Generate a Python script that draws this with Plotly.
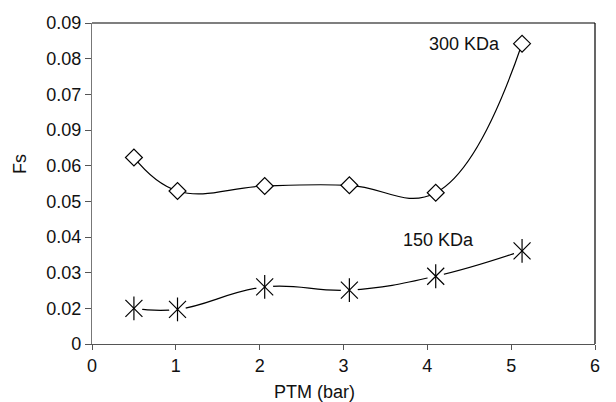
import plotly.graph_objects as go

# Data (axis units)
x_300 = [0.5, 1.02, 2.06, 3.07, 4.10, 5.13]
y_300 = [0.0523, 0.0429, 0.0443, 0.0445, 0.0424, 0.0842]
x_150 = [0.5, 1.02, 2.06, 3.07, 4.10, 5.13]
y_150 = [0.0100, 0.0097, 0.0160, 0.0151, 0.0190, 0.0261]

y_tickvals = [0, 0.01, 0.02, 0.03, 0.04, 0.05, 0.06, 0.07, 0.08, 0.09]
y_ticktext = ["0", "0.02", "0.03", "0.04", "0.05", "0.06", "0.09", "0.07", "0.08", "0.09"]
x_tickvals = [0, 1, 2, 3, 4, 5, 6]

FONT = "Liberation Sans, Arial, sans-serif"
TXT = "#111"

fig = go.Figure()
# lines
for xs, ys in [(x_300, y_300), (x_150, y_150)]:
    fig.add_trace(go.Scatter(x=xs, y=ys, mode="lines",
                             line=dict(color="black", width=1.2, shape="spline", smoothing=1.2),
                             hoverinfo="skip", showlegend=False))
# diamonds
fig.add_trace(go.Scatter(x=x_300, y=y_300, mode="markers",
                         marker=dict(symbol="diamond", size=13, color="white",
                                     line=dict(color="black", width=1.2)),
                         showlegend=False))
# white halo behind stars
fig.add_trace(go.Scatter(x=x_150, y=y_150, mode="markers",
                         marker=dict(symbol="circle", size=17, color="white", line=dict(width=0)),
                         hoverinfo="skip", showlegend=False))
# stars
fig.add_trace(go.Scatter(x=x_150, y=y_150, mode="markers",
                         marker=dict(symbol="x-thin-open", size=17, color="black",
                                     line=dict(color="black", width=1.2)),
                         showlegend=False))
fig.add_trace(go.Scatter(x=x_150, y=y_150, mode="markers",
                         marker=dict(symbol="line-ns-open", size=17, color="black",
                                     line=dict(color="black", width=1.2)),
                         hoverinfo="skip", showlegend=False))

fig.update_layout(
    width=616, height=402,
    margin=dict(l=92, r=21, t=23, b=58),
    paper_bgcolor="white", plot_bgcolor="white",
    font=dict(family=FONT, size=18, color=TXT),
    xaxis=dict(range=[0, 6], tickvals=x_tickvals, showgrid=False, zeroline=False,
               showline=True, linecolor="#555", linewidth=1.2,
               ticks="outside", ticklen=5, tickcolor="#555",
               tickfont=dict(size=18, color=TXT)),
    yaxis=dict(range=[0, 0.09], tickvals=y_tickvals, ticktext=y_ticktext,
               showgrid=False, zeroline=False,
               showline=True, linecolor="#777", linewidth=1.2,
               ticks="outside", ticklen=6, tickcolor="#555",
               tickfont=dict(size=18, color=TXT)),
    shapes=[
        dict(type="line", xref="paper", yref="paper", x0=0, x1=1, y0=1, y1=1,
             line=dict(color="black", width=1.2)),
        dict(type="line", xref="paper", yref="paper", x0=1, x1=1, y0=0, y1=1,
             line=dict(color="black", width=1.2)),
    ],
    annotations=[
        dict(text="300 KDa", x=4.44, y=0.0842, xref="x", yref="y", showarrow=False,
             xanchor="center", yanchor="middle",
             font=dict(size=18, family=FONT, color=TXT)),
        dict(text="150 KDa", x=4.13, y=0.0291, xref="x", yref="y", showarrow=False,
             xanchor="center", yanchor="middle",
             font=dict(size=18, family=FONT, color=TXT)),
        dict(text="PTM (bar)", x=(314 - 92) / 503, y=-(392 - 344) / 321, xref="paper", yref="paper",
             showarrow=False, xanchor="center", yanchor="middle",
             font=dict(size=18, family=FONT, color=TXT)),
        dict(text="Fs", x=-(92 - 20) / 503, y=(344 - 164) / 321, xref="paper", yref="paper",
             showarrow=False, textangle=-90, xanchor="center", yanchor="middle",
             font=dict(size=18, family=FONT, color=TXT)),
    ],
)

fig.write_html("out.html")
